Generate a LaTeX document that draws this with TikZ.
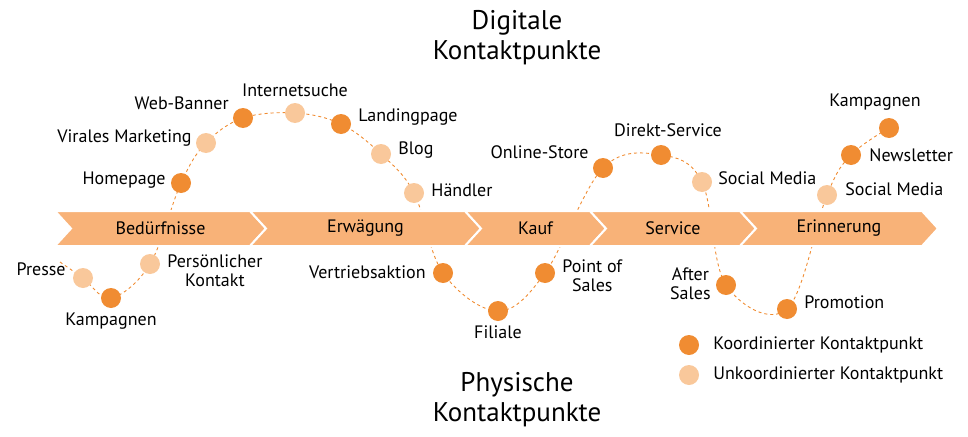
\documentclass[tikz,border=0pt]{standalone}
\usepackage{fontspec}
\setmainfont{PT Sans}
\usetikzlibrary{positioning, backgrounds}
\definecolor{darkdot}{RGB}{240, 140, 50}
\definecolor{lightdot}{RGB}{249, 200, 155}
\definecolor{bandorange}{RGB}{248, 178, 120}

\begin{document}
\begin{tikzpicture}[
    x=1pt, y=-1pt,
    font=\fontsize{18}{19}\selectfont,
    dark/.style={circle, fill=darkdot, minimum size=20pt, inner sep=0pt},
    light/.style={circle, fill=lightdot, minimum size=20pt, inner sep=0pt},
    lbl/.style={align=center, inner sep=1pt},
    title/.style={font=\fontsize{27}{30}\selectfont, align=center},
    stage/.style={fill=bandorange, draw=white, line width=2pt},
    path/.style={dashed, draw=darkdot, line width=0.9pt},
]
    \useasboundingbox (0,0) rectangle (968,436);

    % Stages
    \foreach \a/\b/\name in {55/250/Bedürfnisse, 250/465/Erwägung, 465/590/Kauf, 590/740/Service, 740/922/Erinnerung}{
        \fill[stage] (\a,211) -- (\b,211) -- (\b+16,228.5) -- (\b,246) -- (\a,246) -- (\a+16,228.5) -- cycle;
        \node at ({(\a+\b)/2+8},228.5) {\name};
    }

    % Contact points
    \node[light] (presse) at (83,278) {};
    \node[dark] (kamp1) at (111,298) {};
    \node[light] (kontakt) at (150,264) {};
    \node[dark] (home) at (181,183) {};
    \node[light] (viral) at (206,143) {};
    \node[dark] (banner) at (243,118) {};
    \node[light] (suche) at (295,113) {};
    \node[dark] (landing) at (341,124) {};
    \node[light] (blog) at (381,154) {};
    \node[light] (haendler) at (414,193) {};
    \node[dark] (vertrieb) at (443,273) {};
    \node[dark] (filiale) at (498,311) {};
    \node[dark] (pos) at (545,273) {};
    \node[dark] (store) at (603,168) {};
    \node[dark] (direkt) at (661,155) {};
    \node[light] (social1) at (702,182) {};
    \node[dark] (after) at (726,285) {};
    \node[dark] (promo) at (787,309) {};
    \node[light] (social2) at (827,195) {};
    \node[dark] (news) at (851,155) {};
    \node[dark] (kamp2) at (889,128) {};

    % Dashed journey
    \begin{scope}[on background layer]
        \draw[path] plot[smooth, tension=0.6] coordinates {(60,262) (presse) (kamp1) (kontakt) (home) (viral) (banner) (suche) (landing) (blog) (haendler) (vertrieb) (filiale) (pos) (store) (direkt) (social1) (after) (promo) (social2) (news) (kamp2)};
    \end{scope}

    % Labels
    \node[lbl, left=6pt of presse, yshift=9pt] {Presse};
    \node[lbl, below=3pt of kamp1] {Kampagnen};
    \node[lbl, right=6pt of kontakt, yshift=-7pt] {Persönlicher\\Kontakt};
    \node[lbl, left=4pt of home, yshift=3pt] {Homepage};
    \node[lbl, left=3pt of viral, yshift=5pt] {Virales Marketing};
    \node[lbl, left=3pt of banner, yshift=15pt] {Web-Banner};
    \node[lbl, above=5pt of suche] {Internetsuche};
    \node[lbl, right=6pt of landing, yshift=7pt] {Landingpage};
    \node[lbl, right=6pt of blog, yshift=4pt] {Blog};
    \node[lbl, right=6pt of haendler, yshift=3pt] {Händler};
    \node[lbl, left=6pt of vertrieb, yshift=1pt] {Vertriebsaktion};
    \node[lbl, below=3pt of filiale] {Filiale};
    \node[lbl, right=6pt of pos, yshift=-3pt] {Point of\\Sales};
    \node[lbl, left=3pt of store, yshift=16pt] {Online-Store};
    \node[lbl, above=7pt of direkt, xshift=7pt] {Direkt-Service};
    \node[lbl, right=5pt of social1, yshift=4pt] {Social Media};
    \node[lbl, left=4pt of after, yshift=1pt] {After\\Sales};
    \node[lbl, right=6pt of promo, yshift=7pt] {Promotion};
    \node[lbl, right=7pt of social2, yshift=6pt] {Social Media};
    \node[lbl, right=7pt of news, yshift=0pt] {Newsletter};
    \node[lbl, above=6pt of kamp2, xshift=-14pt] {Kampagnen};

    % Titles
    \node[title] (digital) at (517,38) {Digitale\\Kontaktpunkte};
    \node[title] (physisch) at (517,400) {Physische\\Kontaktpunkte};

    % Legend
    \node[dark] (legdark) at (689,345) {};
    \node[light] (leglight) at (689,375) {};
    \node[lbl, right=13pt of legdark, anchor=west] {Koordinierter Kontaktpunkt};
    \node[lbl, right=13pt of leglight, anchor=west] {Unkoordinierter Kontaktpunkt};
\end{tikzpicture}
\end{document}
